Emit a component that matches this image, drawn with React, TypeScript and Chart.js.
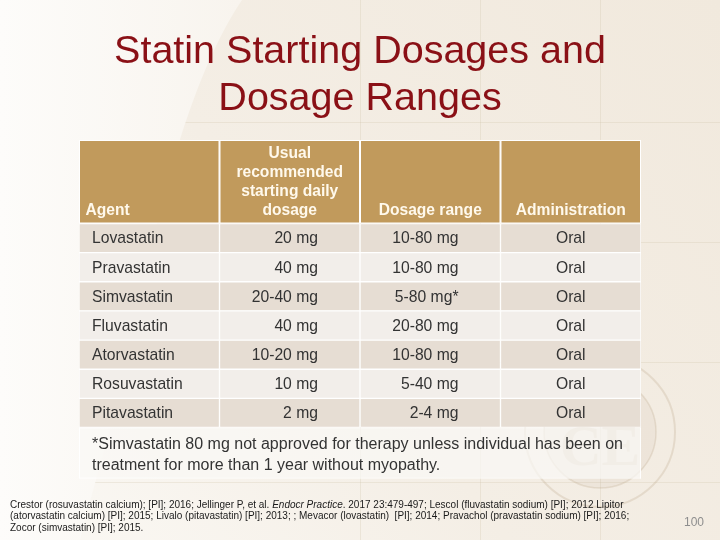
import React, { useEffect, useRef } from "react";
import { Chart, registerables } from "chart.js";

Chart.register(...registerables);

// ---------- content ----------
const titleLines = ["Statin Starting Dosages and", "Dosage Ranges"];
const headerLabels = [
  ["Agent"],
  ["Usual", "recommended", "starting daily", "dosage"],
  ["Dosage range"],
  ["Administration"],
];
const agents = ["Lovastatin", "Pravastatin", "Simvastatin", "Fluvastatin", "Atorvastatin", "Rosuvastatin", "Pitavastatin"];
const startingDoses = ["20 mg", "40 mg", "20-40 mg", "40 mg", "10-20 mg", "10 mg", "2 mg"];
const dosageRanges = ["10-80 mg", "10-80 mg", "5-80 mg*", "20-80 mg", "10-80 mg", "5-40 mg", "2-4 mg"];
const administration = ["Oral", "Oral", "Oral", "Oral", "Oral", "Oral", "Oral"];
const footnoteLines = [
  "*Simvastatin 80 mg not approved for therapy unless individual has been on",
  "treatment for more than 1 year without myopathy.",
];
const referenceLines = [
  [
    { t: "Crestor (rosuvastatin calcium); [PI]; 2016; Jellinger P, et al. ", i: false },
    { t: "Endocr Practice", i: true },
    { t: ". 2017 23:479-497; Lescol (fluvastatin sodium) [PI]; 2012 Lipitor", i: false },
  ],
  [{ t: "(atorvastatin calcium) [PI]; 2015; Livalo (pitavastatin) [PI]; 2013; ; Mevacor (lovastatin)  [PI]; 2014; Pravachol (pravastatin sodium) [PI]; 2016;", i: false }],
  [{ t: "Zocor (simvastatin) [PI]; 2015.", i: false }],
];
const pageNumber = "100";

const columns = [agents, startingDoses, dosageRanges, administration];

// ---------- styles ----------
const FONT = '"Liberation Sans", Arial, Helvetica, sans-serif';
const TITLE_COLOR = "#8A1016";
const HEADER_BG = "#C19A5C";
const HEADER_TEXT = "#FFF9EC";
const ROW_DARK = "#E6DDD3";
const ROW_LIGHT = "#F2EEEA";
const BODY_TEXT = "#333333";
const HEADER_H = 83.5;
const FOOT_H = 51;
const colAlign = ["left", "right", "right", "center"];
const colPad = [13, 42, 42, 0];

const backgroundPlugin = {
  id: "slideBackground",
  beforeDraw(chart: any) {
    const { ctx, width, height } = chart;
    ctx.save();
    const base = ctx.createLinearGradient(0, height, width, 0);
    base.addColorStop(0, "#FBF9F5");
    base.addColorStop(0.45, "#F4EEE5");
    base.addColorStop(1, "#F1E9DD");
    ctx.fillStyle = base;
    ctx.fillRect(0, 0, width, height);

    // faint grid
    ctx.strokeStyle = "rgba(205,190,165,0.25)";
    ctx.lineWidth = 1;
    [360.5, 480.5, 600.5].forEach((gx) => {
      ctx.beginPath();
      ctx.moveTo(gx, 0);
      ctx.lineTo(gx, height);
      ctx.stroke();
    });
    [122.5, 242.5, 362.5, 482.5].forEach((gy) => {
      ctx.beginPath();
      ctx.moveTo(0, gy);
      ctx.lineTo(width, gy);
      ctx.stroke();
    });

    // light swoosh on the left
    const sw = ctx.createLinearGradient(0, 0, 240, 0);
    sw.addColorStop(0, "#FDFCFA");
    sw.addColorStop(1, "#F8F4EE");
    ctx.fillStyle = sw;
    ctx.beginPath();
    ctx.moveTo(0, 0);
    ctx.lineTo(242, 0);
    ctx.bezierCurveTo(205, 55, 170, 150, 140, 300);
    ctx.bezierCurveTo(120, 400, 95, 480, 80, 540);
    ctx.lineTo(0, 540);
    ctx.closePath();
    ctx.fill();

    // watermark seal
    const cx = 600, cy = 432;
    ctx.strokeStyle = "rgba(170,145,110,0.2)";
    ctx.lineWidth = 2;
    ctx.beginPath();
    ctx.arc(cx, cy, 75, 0, Math.PI * 2);
    ctx.stroke();
    ctx.lineWidth = 1.5;
    ctx.beginPath();
    ctx.arc(cx, cy, 56, 0, Math.PI * 2);
    ctx.stroke();
    ctx.fillStyle = "rgba(170,145,110,0.08)";
    ctx.beginPath();
    ctx.arc(cx, cy, 56, 0, Math.PI * 2);
    ctx.fill();
    ctx.fillStyle = "rgba(175,150,115,0.22)";
    ctx.font = `bold 58px "Liberation Serif", "DejaVu Serif", serif`;
    ctx.textAlign = "center";
    ctx.textBaseline = "middle";
    ctx.fillText("CE", cx, cy + 18);
    ctx.restore();
  },
};

const tablePlugin = {
  id: "tableText",
  afterDatasetsDraw(chart: any) {
    const { ctx, chartArea, scales, width } = chart;
    const x = scales.x;
    const top = chartArea.top;
    const bottom = chartArea.bottom;
    ctx.save();

    // header cells
    const headTop = top - HEADER_H;
    for (let c = 0; c < headerLabels.length; c++) {
      const l = x.getPixelForValue(c);
      const r = x.getPixelForValue(c + 1);
      ctx.fillStyle = "#FFFFFF";
      ctx.fillRect(l, headTop, r - l, HEADER_H);
      ctx.fillStyle = HEADER_BG;
      ctx.fillRect(l + 1, headTop + 1, r - l - 2, HEADER_H - 2);
      const lines = headerLabels[c];
      ctx.fillStyle = HEADER_TEXT;
      ctx.font = `bold 15.6px ${FONT}`;
      ctx.textBaseline = "alphabetic";
      const lastBase = top - 8.5;
      lines.forEach((ln, k) => {
        const yy = lastBase - (lines.length - 1 - k) * 19;
        if (c === 0) {
          ctx.textAlign = "left";
          ctx.fillText(ln, l + 6.5, yy);
        } else {
          ctx.textAlign = "center";
          ctx.fillText(ln, (l + r) / 2, yy);
        }
      });
    }

    // body text from bar elements
    ctx.font = `15.7px ${FONT}`;
    ctx.fillStyle = BODY_TEXT;
    ctx.textBaseline = "middle";
    chart.data.datasets.forEach((ds: any, d: number) => {
      const meta = chart.getDatasetMeta(d);
      meta.data.forEach((el: any, i: number) => {
        const p = el.getProps(["x", "y", "base"], true);
        const l = Math.min(p.x, p.base);
        const r = Math.max(p.x, p.base);
        const txt = columns[d][i];
        const a = colAlign[d];
        ctx.textAlign = a;
        const tx = a === "left" ? l + colPad[d] : a === "right" ? r - colPad[d] : (l + r) / 2;
        ctx.fillText(txt, tx, p.y + 1);
      });
    });

    // footnote cell
    const fl = x.getPixelForValue(0);
    const fr = x.getPixelForValue(4);
    ctx.fillStyle = "rgba(255,255,255,0.95)";
    ctx.fillRect(fl, bottom, fr - fl, 1);
    ctx.fillRect(fl, bottom + FOOT_H - 1, fr - fl, 1);
    ctx.fillRect(fl, bottom, 1, FOOT_H);
    ctx.fillRect(fr - 1, bottom, 1, FOOT_H);
    ctx.fillStyle = "rgba(250,248,245,0.72)";
    ctx.fillRect(fl + 1, bottom + 1, fr - fl - 2, FOOT_H - 2);
    ctx.fillStyle = "#333333";
    ctx.font = `16px ${FONT}`;
    ctx.textAlign = "left";
    ctx.textBaseline = "middle";
    footnoteLines.forEach((ln, k) => {
      ctx.fillText(ln, fl + 13, bottom + 17 + k * 21.5);
    });

    // title
    ctx.fillStyle = TITLE_COLOR;
    ctx.font = `39.5px ${FONT}`;
    ctx.textAlign = "center";
    ctx.textBaseline = "alphabetic";
    titleLines.forEach((ln, k) => {
      ctx.fillText(ln, width / 2, 63 + k * 46.5);
    });

    // references
    ctx.fillStyle = "#1A1A1A";
    ctx.textAlign = "left";
    ctx.textBaseline = "middle";
    referenceLines.forEach((segs, k) => {
      let cx = 10;
      const yy = 505 + k * 11.6;
      segs.forEach((s) => {
        ctx.font = `${s.i ? "italic " : ""}10px ${FONT}`;
        ctx.fillText(s.t, cx, yy);
        cx += ctx.measureText(s.t).width;
      });
    });

    // page number
    ctx.fillStyle = "#8E8E8E";
    ctx.font = `12px ${FONT}`;
    ctx.textAlign = "right";
    ctx.fillText(pageNumber, 704, 523);
    ctx.restore();
  },
};

export default function App() {
  const ref = useRef<HTMLCanvasElement | null>(null);

  useEffect(() => {
    if (!ref.current) return;
    const datasets = columns.map((col, c) => ({
      label: headerLabels[c].join(" "),
      data: col.map(() => [c, c + 1]),
      backgroundColor: (ctx: any) => (ctx.dataIndex % 2 === 0 ? ROW_DARK : ROW_LIGHT),
      borderColor: "#FFFFFF",
      borderWidth: 1,
      borderSkipped: false,
      barPercentage: 1,
      categoryPercentage: 1,
      grouped: false,
    }));
    const chart = new Chart(ref.current, {
      type: "bar",
      data: { labels: agents, datasets },
      plugins: [backgroundPlugin, tablePlugin],
      options: {
        indexAxis: "y",
        animation: false,
        responsive: false,
        devicePixelRatio: 1,
        layout: { padding: { left: 79, right: 79, top: 223.5, bottom: 112.5 } },
        scales: {
          x: { type: "linear", min: 0, max: 4, display: false },
          y: { type: "category", display: false, offset: true },
        },
        plugins: {
          legend: { display: false },
          tooltip: { enabled: false },
          title: { display: false },
        },
      } as any,
    });
    return () => chart.destroy();
  }, []);

  return (
    <div style={{ position: "fixed", left: 0, top: 0, width: 720, height: 540 }}>
      <canvas ref={ref} width={720} height={540} style={{ display: "block", width: 720, height: 540 }} />
    </div>
  );
}
